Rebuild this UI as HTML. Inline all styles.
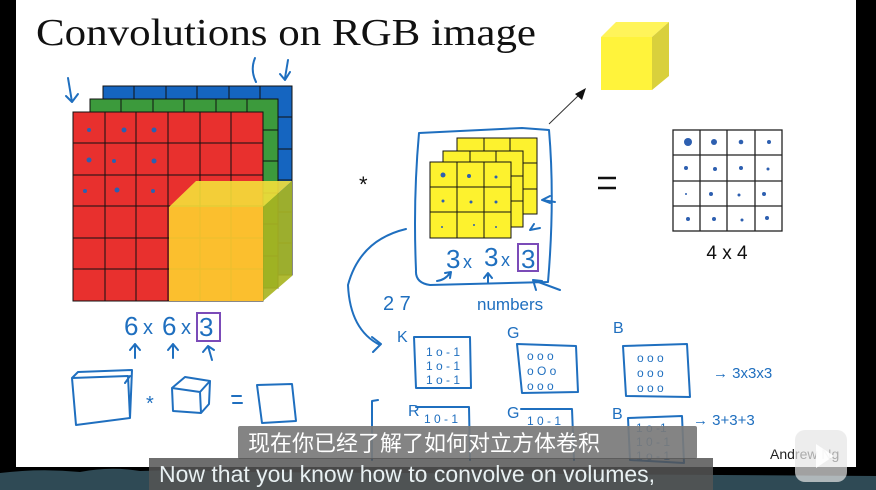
<!DOCTYPE html>
<html><head><meta charset="utf-8"><style>
html,body{margin:0;padding:0;background:#000;}
svg{display:block}
.h{fill:none;stroke:#1f6fbf;stroke-width:2;stroke-linecap:round;stroke-linejoin:round}
.ht{fill:#1f6fbf;font-family:"Liberation Sans",sans-serif}
</style></head><body>
<svg width="876" height="490" viewBox="0 0 876 490" xmlns="http://www.w3.org/2000/svg">
<rect x="0" y="0" width="876" height="490" fill="#000"/>
<rect x="16" y="0" width="840" height="467" fill="#fff"/>
<path d="M0 473 Q40 468 80 472 Q110 466 140 471 L180 470 L240 472 L876 476 L876 490 L0 490Z" fill="#2f4a55"/>
<text x="36" y="45" font-family="Liberation Serif,serif" font-size="38" fill="#111" textLength="500" lengthAdjust="spacingAndGlyphs">Convolutions on RGB image</text>

<g stroke="#111" stroke-width="1">
<rect x="103" y="86" width="189" height="189" fill="#1565c0"/>
<rect x="90" y="99" width="188" height="189" fill="#3c9a3c"/>
<rect x="73" y="112" width="190" height="189" fill="#e8302e"/>
</g>
<g stroke="#111" stroke-width="1">
<path d="M134 86V99M166 86V99M197 86V99M229 86V99M260 86V99M278 117H292M278 149H292M278 180H292M278 212H292M278 243H292"/>
<path d="M121 99V112M153 99V112M184 99V112M216 99V112M247 99V112M263 130H278M263 161H278M263 193H278M263 224H278M263 256H278"/>
<path d="M105 112V301M136 112V301M168 112V301M200 112V301M231 112V301M73 143H263M73 175H263M73 206H263M73 238H263M73 269H263"/>
</g>
<polygon points="169,207 196,181 292,181 263,207" fill="#f4e03a" opacity="0.9"/>
<polygon points="263,207 292,181 292,276 263,301" fill="#a8b422" opacity="0.92"/>
<rect x="169" y="207" width="94" height="94" fill="#fbbf2e"/>
<g stroke="#e0c030" stroke-width="1" opacity="0.6"><path d="M200 207V301M231 207V301M169 238H263M169 269H263"/></g>
<g fill="#2d5fb0">
<circle cx="89" cy="130" r="2"/><circle cx="124" cy="130" r="2.5"/><circle cx="154" cy="130" r="2.5"/>
<circle cx="89" cy="160" r="2.5"/><circle cx="114" cy="161" r="2"/><circle cx="154" cy="161" r="2.5"/>
<circle cx="85" cy="191" r="2"/><circle cx="117" cy="190" r="2.5"/><circle cx="153" cy="191" r="2"/>
</g>
<path class="h" d="M68 78 L72 102 M66 96 L72 102 L78 94"/>
<path class="h" d="M255 58 Q250 70 256 82 M288 60 L285 78 M280 74 L285 80 L290 72"/>
<text x="124" y="335" class="ht" font-size="26">6</text><text x="143" y="334" class="ht" font-size="20">x</text>
<text x="162" y="335" class="ht" font-size="26">6</text><text x="181" y="334" class="ht" font-size="20">x</text>
<text x="199" y="336" class="ht" font-size="26">3</text>
<rect x="197" y="313" width="23" height="28" fill="none" stroke="#7b4bb8" stroke-width="2"/>
<path class="h" d="M135 358V344M130 350L135 344L140 350M173 358V344M168 350L173 344L178 350M212 360L208 346M203 352L208 346L214 350"/>

<path class="h" d="M72 378 L128 376 L130 418 L76 425 Z M72 378 L78 372 L132 370 L130 418 M125 383 L130 376"/>
<text x="146" y="410" class="ht" font-size="20">*</text>
<path class="h" d="M172 388 L200 392 L201 413 L173 411 Z M172 388 L185 377 L210 381 L200 392 M210 381 L209 404 L201 413"/>
<path class="h" d="M232 396H241M233 403H242"/>
<path class="h" d="M257 385 L292 384 L296 421 L262 423 Z"/>

<text x="359" y="192" font-family="Liberation Sans,sans-serif" font-size="22" fill="#111">*</text>
<g stroke="#111" stroke-width="1" fill="#fdf22e">
<rect x="457" y="138" width="80" height="76"/>
<rect x="443" y="151" width="80" height="76"/>
<rect x="430" y="162" width="81" height="76"/>
</g>
<g stroke="#111" stroke-width="1"><path d="M484 138V151M510 138V151M523 163H537M523 189H537M470 151V162M496 151V162M511 176H523M511 201H523M457 162V238M484 162V238M430 187H511M430 212H511"/></g>
<g fill="#2d5fb0"><circle cx="443" cy="175" r="2.5"/><circle cx="469" cy="176" r="2"/><circle cx="496" cy="177" r="1.5"/><circle cx="443" cy="201" r="1.5"/><circle cx="471" cy="202" r="1.5"/><circle cx="496" cy="202" r="1.5"/><circle cx="442" cy="227" r="1"/><circle cx="474" cy="225" r="1"/><circle cx="496" cy="227" r="1"/></g>
<path class="h" d="M419 133 L522 128 L549 130 Q555 200 548 282 L430 285 Q415 283 416 270 Q413 200 419 133"/>
<path class="h" d="M550 203 L542 200 L550 196 M542 200 L555 202 M534 224 L530 230 L540 228"/>
<text x="446" y="268" class="ht" font-size="26">3</text><text x="463" y="268" class="ht" font-size="18">x</text>
<text x="484" y="266" class="ht" font-size="26">3</text><text x="501" y="266" class="ht" font-size="18">x</text>
<text x="521" y="268" class="ht" font-size="26">3</text>
<rect x="518" y="244" width="20" height="27" fill="none" stroke="#7b4bb8" stroke-width="2"/>
<path class="h" d="M437 281 Q445 280 450 273 M445 273 L451 272 L450 278 M488 283V274M484 278L488 273L492 278 M533 280L560 290M533 280L536 290M533 280L542 281"/>
<text x="383" y="310" class="ht" font-size="20">2 7</text>
<text x="477" y="310" class="ht" font-size="17">numbers</text>
<path class="h" d="M406 229 Q360 240 348 285 Q350 330 380 345 M372 337 L381 344 L373 352"/>
<path d="M549 124 L580 94" stroke="#333" stroke-width="1"/><polygon points="586,88 575,94 582,100" fill="#111"/>
<polygon points="601,37 616,22 669,22 652,37" fill="#fff45a"/>
<polygon points="652,37 669,22 669,76 652,90" fill="#d9d03c"/>
<rect x="601" y="37" width="51" height="53" fill="#fff33b"/>
<path d="M598 178H616M598 188H616" stroke="#111" stroke-width="2.5"/>
<g stroke="#222" stroke-width="1.3" fill="none"><rect x="673" y="130" width="109" height="101"/><path d="M700 130V231M727 130V231M755 130V231M673 155H782M673 181H782M673 206H782"/></g>
<g fill="#2d5fb0"><circle cx="688" cy="142" r="4"/><circle cx="714" cy="142" r="3"/><circle cx="741" cy="142" r="2.3"/><circle cx="769" cy="142" r="2"/><circle cx="686" cy="168" r="2"/><circle cx="715" cy="169" r="2"/><circle cx="741" cy="168" r="2"/><circle cx="768" cy="169" r="1.5"/><circle cx="686" cy="194" r="1"/><circle cx="711" cy="194" r="2"/><circle cx="739" cy="195" r="1.5"/><circle cx="764" cy="194" r="2"/><circle cx="688" cy="219" r="2"/><circle cx="714" cy="219" r="2"/><circle cx="742" cy="220" r="1.5"/><circle cx="767" cy="218" r="2"/></g>
<text x="727" y="259" text-anchor="middle" font-family="Liberation Sans,sans-serif" font-size="19" fill="#111">4 x 4</text>

<g class="ht" font-size="12">
<text x="397" y="342" font-size="16">K</text>
<text x="507" y="338" font-size="16">G</text>
<text x="613" y="333" font-size="16">B</text>
<text x="426" y="356">1 o - 1</text><text x="426" y="370">1 o - 1</text><text x="426" y="384">1 o - 1</text>
<text x="527" y="360">o  o  o</text><text x="527" y="375">o  O  o</text><text x="527" y="390">o  o o</text>
<text x="637" y="362">o   o  o</text><text x="637" y="377">o   o  o</text><text x="637" y="392">o   o  o</text>
<text x="713" y="378" font-size="15">→ 3x3x3</text>
<text x="408" y="416" font-size="16">R</text>
<text x="507" y="418" font-size="16">G</text>
<text x="612" y="419" font-size="16">B</text>
<text x="424" y="423">1 0 - 1</text>
<text x="527" y="425">1 0 - 1</text>
<text x="636" y="432">1 o -1</text><text x="636" y="446">1 0 - 1</text><text x="636" y="460">1 o - 1</text>
<text x="693" y="425" font-size="15">→ 3+3+3</text>
</g>
<path class="h" d="M414 337 L470 337 L471 388 L416 388 Z M517 344 L576 346 L578 392 L522 393 Z M623 346 L687 344 L690 397 L626 396 Z M378 400 L372 401 L372 460 M416 407 L469 407 L470 460 M521 409 L572 409 L574 460 M628 418 L682 416 L684 463 L630 460 Z"/>

<rect x="238" y="426" width="459" height="33" rx="2" fill="#7a7a7a" opacity="0.92"/>
<text x="248" y="451" font-family="Liberation Sans,'Noto Sans CJK SC',sans-serif" font-size="22" fill="#fff">现在你已经了解了如何对立方体卷积</text>
<rect x="149" y="458" width="564" height="32" fill="#555" opacity="0.85"/>
<text x="159" y="482" font-family="Liberation Sans,sans-serif" font-size="23" fill="#e8f0f2">Now that you know how to convolve on volumes,</text>
<text x="770" y="459" font-family="Liberation Sans,sans-serif" font-size="14" fill="#222">Andrew Ng</text>
<rect x="795" y="430" width="52" height="52" rx="10" fill="#e6e6e6" opacity="0.7"/>
<polygon points="816,444 834,456 816,468" fill="#fff" opacity="0.9"/>
</svg>
</body></html>
